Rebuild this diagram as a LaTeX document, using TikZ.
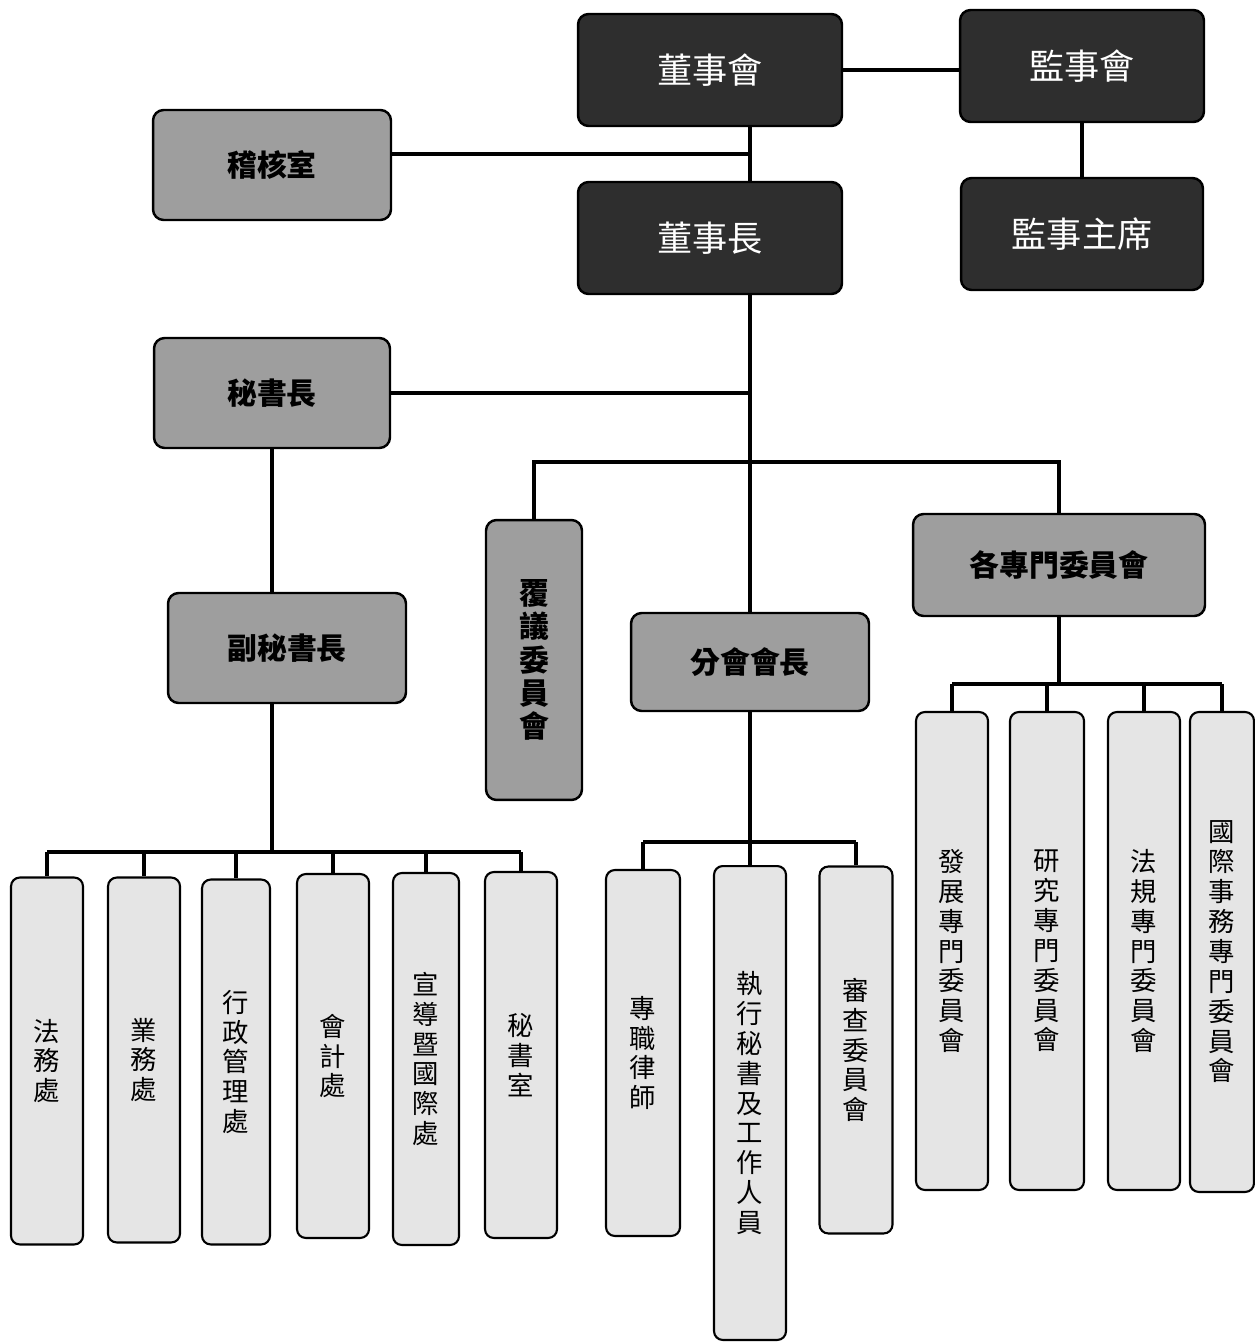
\documentclass[tikz,border=0pt]{standalone}
\usepackage{fontspec}
\newfontfamily\cjk{Noto Sans CJK TC}
\usetikzlibrary{positioning}
\tikzset{
  base/.style={align=center, inner sep=2pt, text=black},
  box/.style={base, rectangle, rounded corners=6pt, draw=black, line width=1.4pt},
  topbox/.style={box, fill=black!82, text=white, font=\cjk\fontsize{20}{22}\selectfont, minimum width=5.28cm, minimum height=2.24cm},
  midbox/.style={box, fill=black!38, font=\cjk\bfseries\fontsize{17}{19}\selectfont, minimum width=4.76cm, minimum height=2.2cm},
  colbox/.style={box, fill=black!10, rounded corners=5pt, line width=1.2pt, minimum width=1.44cm, font=\cjk\fontsize{15}{17}\selectfont},
  link/.style={line width=1.8pt, draw=black},
}
\begin{document}
\begin{tikzpicture}[x=0.02cm,y=-0.02cm]
  \useasboundingbox (0,0) rectangle (1254,1344);
  \node[topbox] (dsh)  at (710,70)   {董事會};
  \node[topbox,minimum width=4.88cm] (jsh)  at (1082,66)  {監事會};
  \node[midbox] (jhs)  at (272,165)  {稽核室};
  \node[topbox] (dsz)  at (710,238)  {董事長};
  \node[topbox,minimum width=4.84cm] (jszx) at (1082,234) {監事主席};
  \node[midbox,minimum width=4.72cm] (msz)  at (272,393)  {秘書長};
  \node[midbox] (fmsz) at (287,648)  {副秘書長};
  \node[midbox,minimum width=1.92cm,minimum height=5.6cm] (fy) at (534,660) {覆\\議\\委\\員\\會};
  \node[midbox,minimum height=1.96cm] (fhhz) at (750,662) {分會會長};
  \node[midbox,minimum width=5.84cm,minimum height=2.04cm] (gzm) at (1059,565) {各專門委員會};
  \node[colbox,minimum height=7.34cm] (fw)  at (47,1061)  {法\\務\\處};
  \node[colbox,minimum height=7.30cm] (yw)  at (144,1060) {業\\務\\處};
  \node[colbox,minimum height=7.30cm,minimum width=1.36cm] (xz) at (236,1062) {行\\政\\管\\理\\處};
  \node[colbox,minimum height=7.28cm] (kj)  at (333,1056) {會\\計\\處};
  \node[colbox,minimum height=7.44cm,minimum width=1.32cm] (xd) at (426,1059) {宣\\導\\暨\\國\\際\\處};
  \node[colbox,minimum height=7.32cm] (msh) at (521,1055) {秘\\書\\室};
  \node[colbox,minimum height=7.32cm,minimum width=1.48cm] (zl) at (643,1053) {專\\職\\律\\師};
  \node[colbox,minimum height=9.48cm] (zx)  at (750,1103) {執\\行\\秘\\書\\及\\工\\作\\人\\員};
  \node[colbox,minimum height=7.34cm,minimum width=1.46cm] (sc) at (856,1050) {審\\查\\委\\員\\會};
  \node[colbox,minimum height=9.56cm] (fz)  at (952,951)  {發\\展\\專\\門\\委\\員\\會};
  \node[colbox,minimum height=9.56cm,minimum width=1.48cm] (yj) at (1047,951) {研\\究\\專\\門\\委\\員\\會};
  \node[colbox,minimum height=9.56cm] (fg)  at (1144,951) {法\\規\\專\\門\\委\\員\\會};
  \node[colbox,minimum height=9.6cm,minimum width=1.28cm] (gj) at (1222,952) {國\\際\\事\\務\\專\\門\\委\\員\\會};
  \coordinate (busd) at (0,462);
  \coordinate (busa) at (0,852);
  \coordinate (busb) at (0,842);
  \coordinate (busc) at (0,684);
  \coordinate (jhsy) at (0,154);
  \draw[link] (dsh.east) -- (dsh.east -| jsh.west);
  \draw[link] (jsh.south) -- (jszx.north);
  \draw[link] (dsh.south -| fhhz.north) -- (dsz.north -| fhhz.north);
  \draw[link] (jhs.east |- jhsy) -- (fhhz.north |- jhsy);
  \draw[link] (dsz.south -| fhhz.north) -- (fhhz.north);
  \draw[link] (msz.east) -- (msz.east -| fhhz.north);
  \draw[link] (fy.north) -- (fy.north |- busd) -- (gzm.north |- busd) -- (gzm.north);
  \draw[link] (msz.south) -- (msz.south |- fmsz.north);
  \draw[link] (fmsz.south -| msz.south) -- (msz.south |- busa);
  \draw[link] (fw.north |- busa) -- (msh.north |- busa);
  \foreach \n in {fw,yw,xz,kj,xd,msh} \draw[link] (\n.north |- busa) -- (\n.north);
  \draw[link] (fhhz.south) -- (fhhz.south |- busb);
  \draw[link] (zl.north |- busb) -- (sc.north |- busb);
  \foreach \n in {zl,zx,sc} \draw[link] (\n.north |- busb) -- (\n.north);
  \draw[link] (gzm.south) -- (gzm.south |- busc);
  \draw[link] (fz.north |- busc) -- (gj.north |- busc);
  \foreach \n in {fz,yj,fg,gj} \draw[link] (\n.north |- busc) -- (\n.north);
\end{tikzpicture}
\end{document}
